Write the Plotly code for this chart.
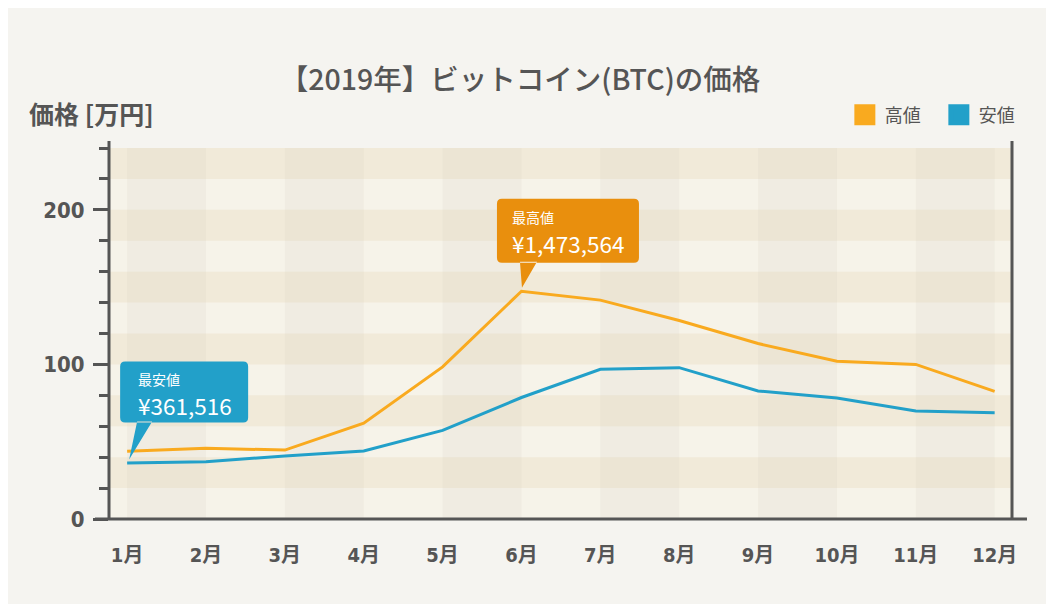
import plotly.graph_objects as go

# ---- data (万円) ----
months = ["1月", "2月", "3月", "4月", "5月", "6月", "7月", "8月", "9月", "10月", "11月", "12月"]
high = [43.9, 45.8, 44.6, 62.0, 98.4, 147.36, 141.6, 128.4, 113.5, 102.0, 100.0, 82.6]
low = [36.15, 37.1, 40.8, 44.0, 57.3, 78.6, 96.8, 97.9, 82.8, 78.3, 69.8, 68.8]
high_max_yen = 1473564
low_min_yen = 361516
series_names = ["高値", "安値"]
series_colors = ["#f9aa1f", "#22a0c9"]
callout_colors = ["#e98f0d", "#22a0c9"]
title_text = "【2019年】ビットコイン(BTC)の価格"
y_title = "価格 [万円]"
y_range = [0, 240]
x_range = [-0.23, 11.22]

GREY = "#555555"
CJK = "Noto Sans CJK JP"
NUM = "'DejaVu Sans Condensed', 'Noto Sans CJK JP'"

fig = go.Figure()
fig.add_trace(go.Scatter(x=months, y=high, mode="lines", line=dict(color=series_colors[0], width=3),
                         showlegend=False, hoverinfo="skip"))
fig.add_trace(go.Scatter(x=months, y=low, mode="lines", line=dict(color=series_colors[1], width=3),
                         showlegend=False, hoverinfo="skip"))
for name, col in zip(series_names, series_colors):
    fig.add_trace(go.Scatter(x=[None], y=[None], mode="markers", name=name,
                             marker=dict(symbol="square", size=16, color=col,
                                         line=dict(color=col, width=5))))

shapes = []
# horizontal bands every other 20
for k in range(20, y_range[1], 40):
    shapes.append(dict(type="rect", xref="x", yref="y", x0=x_range[0], x1=x_range[1], y0=k, y1=k + 20,
                       fillcolor="rgba(230,212,172,0.27)", line=dict(width=0), layer="below"))
# vertical columns
for i in range(0, len(months) - 1, 2):
    shapes.append(dict(type="rect", xref="x", yref="y", x0=i, x1=i + 1, y0=y_range[0], y1=y_range[1],
                       fillcolor="rgba(205,200,185,0.14)", line=dict(width=0), layer="below"))
# axis lines
shapes.append(dict(type="line", xref="paper", yref="paper", x0=-0.0155, x1=1.0166, y0=0, y1=0,
                   line=dict(color=GREY, width=3)))
shapes.append(dict(type="line", xref="paper", yref="paper", x0=0, x1=0, y0=0, y1=1.019,
                   line=dict(color=GREY, width=3)))
shapes.append(dict(type="line", xref="paper", yref="paper", x0=1, x1=1, y0=0, y1=1.019,
                   line=dict(color=GREY, width=3)))


def rrect(x0, x1, y0, y1, r=5):
    return (f"M {x0 + r},{y1} L {x1 - r},{y1} Q {x1},{y1} {x1},{y1 - r} L {x1},{y0 + r} "
            f"Q {x1},{y0} {x1 - r},{y0} L {x0 + r},{y0} Q {x0},{y0} {x0},{y0 + r} "
            f"L {x0},{y1 - r} Q {x0},{y1} {x0 + r},{y1} Z")


def callout(xi, yv, color, box, tail, label, amount, text_dx, label_dy, amount_dy):
    bx0, bx1, by0, by1 = box
    tx0, tx1, tipx, tipy = tail
    path = rrect(bx0, bx1, by0, by1) + f" M {tx0},{by0 + 1} L {tipx},{tipy} L {tx1},{by0 + 1} Z"
    shapes.append(dict(type="path", xref="x", yref="y", xsizemode="pixel", ysizemode="pixel",
                       xanchor=xi, yanchor=yv, path=path, fillcolor=color, line=dict(width=0)))
    anns = [
        dict(x=xi, y=yv, xref="x", yref="y", text=label, showarrow=False, xanchor="left", yanchor="middle",
             xshift=text_dx, yshift=label_dy, borderpad=0,
             font=dict(family=CJK, size=14, color="#ffffff")),
        dict(x=xi, y=yv, xref="x", yref="y", text=amount, showarrow=False, xanchor="left", yanchor="middle",
             xshift=text_dx, yshift=amount_dy, borderpad=0,
             font=dict(family=CJK, size=22.5, color="#ffffff")),
    ]
    return anns


i_max = high.index(max(high))
i_min = low.index(min(low))
annotations = []
annotations += callout(i_max, high[i_max], callout_colors[0], (-24.5, 117.5, 28.4, 92.4), (-1.5, 15.5, 0.5, 3.4),
                       "最高値", f"¥{high_max_yen:,}", -10, 74, 48.4)
annotations += callout(i_min, low[i_min], callout_colors[1], (-7, 121, 40.5, 101.5), (10, 25, 2, 3.5),
                       "最安値", f"¥{low_min_yen:,}", 9.5, 84, 58)
annotations.append(dict(x=-0.0908, y=1.094, xref="paper", yref="paper", text=y_title, showarrow=False,
                        xanchor="left", yanchor="middle", font=dict(family=CJK, size=25, color=GREY, weight=700)))

fig.update_layout(
    width=1038, height=596,
    margin=dict(l=101, r=34, t=140, b=84.5),
    paper_bgcolor="#f5f4f0",
    plot_bgcolor="#f6f3e9",
    title=dict(text=title_text, x=0.4933, xref="container", y=0.879, yref="container", xanchor="center",
               yanchor="middle", font=dict(family=CJK, size=28.5, color=GREY, weight=500)),
    showlegend=True,
    legend=dict(orientation="h", x=1.0231, xanchor="right", y=1.089, yanchor="middle",
                entrywidth=49, entrywidthmode="pixels",
                font=dict(family=CJK, size=18, color=GREY), bgcolor="rgba(0,0,0,0)"),
    xaxis=dict(type="category", categoryorder="array", categoryarray=months, range=x_range,
               showgrid=False, zeroline=False, showline=False, ticks="", ticklabelstandoff=22,
               tickfont=dict(family=NUM, size=20, color=GREY, weight=700)),
    yaxis=dict(range=y_range, dtick=100, tick0=0, showgrid=False, zeroline=False, showline=False,
               ticks="outside", ticklen=15, tickwidth=2.5, tickcolor=GREY, ticklabelstandoff=4,
               tickfont=dict(family=NUM, size=22, color=GREY, weight=700),
               minor=dict(dtick=20, ticks="outside", ticklen=9, tickwidth=2.5, tickcolor=GREY, showgrid=False)),
    shapes=shapes,
    annotations=annotations,
)

fig.write_html("out.html")
